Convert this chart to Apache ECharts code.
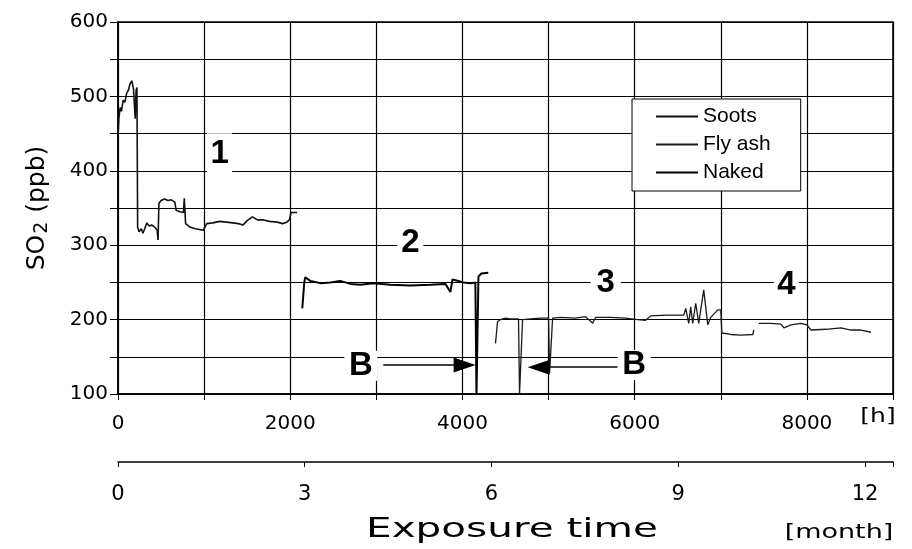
<!DOCTYPE html>
<html>
<head>
<meta charset="utf-8">
<script src="https://cdn.jsdelivr.net/npm/echarts@6/dist/echarts.min.js"></script>
<style>
  html, body { margin: 0; padding: 0; background: #fff; }
  #chart { width: 912px; height: 549px; }
</style>
</head>
<body>
<div id="chart"></div>
<script>
// period 1
var sootsHours = [0, 10, 25, 40, 60, 80, 100, 120, 140, 160, 180, 195, 200, 210, 220, 228, 245, 270, 290, 310, 335, 360, 395, 430, 455, 465, 475, 500, 540, 580, 620, 660, 675, 720, 760, 770, 785, 840, 900, 990, 1030, 1100, 1180, 1260, 1330, 1400, 1450, 1500, 1560, 1620, 1690, 1760, 1850, 1910, 1960, 1990, 2010, 2080];
var sootsPpb = [445, 470, 485, 480, 495, 492, 504, 508, 517, 521, 510, 508, 470, 508, 512, 324, 318, 322, 316, 322, 330, 326, 327, 324, 320, 307, 356, 360, 362, 360, 361, 358, 347, 345, 344, 363, 329, 324, 322, 320, 329, 330, 332, 331, 330, 329, 327, 333, 338, 334, 334, 332, 331, 329, 331, 334, 344, 344];

// period 2
var nakedHours = [2140, 2163, 2175, 2233, 2350, 2465, 2580, 2700, 2814, 2965, 3163, 3395, 3628, 3802, 3860, 3884, 3953, 4010, 4093, 4150, 4163, 4186, 4186, 4220, 4300];
var nakedPpb = [215, 250, 257, 252, 249, 250, 252, 248, 247, 249, 247, 246, 247, 248, 237, 254, 252, 250, 249, 250, 100, 100, 258, 262, 263];

// periods 3 and 4 (null = gap)
var flyAshHours = [4384, 4407, 4442, 4500, 4558, 4651, 4663, 4686, 4698, 4791, 4907, 5000, 5012, 5035, 5047, 5140, 5314, 5430, 5512, 5547, 5721, 5895, 6035, 6128, 6186, 6360, 6570, 6593, 6628, 6651, 6674, 6709, 6744, 6802, 6849, 6884, 6965, 7000, 7012, 7116, 7233, 7372, 7384, null, 7442, 7581, 7698, 7733, 7814, 7930, 8000, 8047, 8221, 8395, 8512, 8628, 8744];
var flyAshPpb = [168, 197, 200, 202, 201, 201, 100, 100, 200, 201, 202, 202, 128, 128, 202, 203, 202, 204, 195, 203, 203, 202, 200, 199, 205, 206, 206, 215, 195, 217, 195, 222, 195, 240, 193, 203, 213, 213, 182, 180, 179, 180, 186, null, 195, 195, 194, 189, 193, 195, 193, 186, 187, 189, 186, 186, 183];

var hourLabels = [0, 2000, 4000, 6000, 8000];
var ppbLabels = [100, 200, 300, 400, 500, 600];
var monthLabels = [0, 3, 6, 9, 12];

// period numbers and "B" marks
var noteTexts = ['1', '2', '3', '4', 'B', 'B'];
var noteHours = [1180, 3395, 5663, 7762, 2820, 5994];
var notePpb = [423, 303, 249, 246, 138, 139];

// B arrows: [fromHour, toHour, ppb]
var arrowFrom = [3081, 5802];
var arrowTo = [4025, 4885];
var arrowPpb = [139, 136];

function pairs(hs, vs) {
  var out = [];
  for (var i = 0; i < hs.length; i++) {
    out.push(hs[i] === null ? ['-', '-'] : [hs[i], vs[i]]);
  }
  return out;
}

var noteBoxes = [[25, 41], [26, 30], [30, 30], [25, 30], [33, 30], [33, 30]];

var chart = echarts.init(document.getElementById('chart'));
var axisFont = 'DejaVu Sans';

var option = {
  animation: false,
  backgroundColor: '#fff',
  grid: {
    left: 118, right: 19, top: 22, bottom: 155,
    show: true, borderColor: '#000', borderWidth: 1.5
  },
  legend: {
    data: ['Soots', 'Fly ash', 'Naked'],
    orient: 'vertical',
    left: 632, top: 99,
    padding: [7, 30, 8, 23],
    itemWidth: 42, itemHeight: 20, itemGap: 7,
    backgroundColor: '#fff',
    borderColor: '#000', borderWidth: 1,
    itemStyle: { color: 'rgba(0,0,0,0)', borderWidth: 0 },
    textStyle: { fontFamily: 'Liberation Sans', fontSize: 21, color: '#000' }
  },
  xAxis: [{
    type: 'value', min: 0, max: 9000, interval: 1000,
    axisLine: { lineStyle: { color: '#000', width: 1.5 } },
    axisTick: { show: true, length: 6, lineStyle: { color: '#000' } },
    splitLine: { show: true, lineStyle: { color: '#000', width: 1.2 } },
    axisLabel: {
      margin: 20, color: '#000', fontFamily: axisFont, fontSize: 20,
      formatter: function (v) { return hourLabels.indexOf(v) >= 0 ? String(v) : ''; }
    }
  }, {
    type: 'value', min: 0, max: 12.45, interval: 3,
    position: 'bottom', offset: 68,
    axisLine: { show: true, lineStyle: { color: '#000', width: 1.5 } },
    axisTick: { show: true, length: 5, lineStyle: { color: '#000' } },
    splitLine: { show: false },
    axisLabel: {
      margin: 22, color: '#000', fontFamily: axisFont, fontSize: 21,
      formatter: function (v) { return monthLabels.indexOf(v) >= 0 ? String(v) : ''; }
    }
  }],
  yAxis: {
    type: 'value', min: 100, max: 600, interval: 50,
    name: '{a|SO}{b|2}{a| (ppb)}',
    nameLocation: 'middle', nameRotate: 90, nameGap: 66,
    nameTextStyle: {
      rich: {
        a: { fontFamily: axisFont, fontSize: 25, color: '#000', lineHeight: 30 },
        b: { fontFamily: axisFont, fontSize: 19, color: '#000', lineHeight: 30, padding: [10, 1, 0, 1] }
      }
    },
    axisLine: { show: true, lineStyle: { color: '#000', width: 1.5 } },
    axisTick: { show: true, length: 8, lineStyle: { color: '#000' } },
    splitLine: { show: true, lineStyle: { color: '#000', width: 1.2 } },
    axisLabel: {
      margin: 10, color: '#000', fontFamily: axisFont, fontSize: 20,
      formatter: function (v) { return ppbLabels.indexOf(v) >= 0 ? String(v) : ''; }
    }
  },
  series: [{
    name: 'Soots', type: 'line', symbol: 'none',
    data: pairs(sootsHours, sootsPpb),
    lineStyle: { color: '#111', width: 1.6 },
    itemStyle: { color: '#111' },
    markPoint: {
      symbol: 'rect',
      itemStyle: { color: '#fff' },
      label: {
        show: true, position: 'inside', color: '#000',
        fontFamily: 'Liberation Sans', fontWeight: 'bold', fontSize: 33,
        formatter: function (p) { return p.name; }
      },
      data: noteTexts.map(function (t, i) {
        return { name: t, coord: [noteHours[i], notePpb[i]], symbolSize: noteBoxes[i] };
      })
    },
    markLine: {
      silent: true,
      symbol: ['none', 'triangle'],
      symbolSize: [15, 22],
      lineStyle: { color: '#000', width: 1.6, type: 'solid' },
      label: { show: false },
      data: arrowFrom.map(function (h, i) {
        return [{ coord: [h, arrowPpb[i]] }, { coord: [arrowTo[i], arrowPpb[i]] }];
      })
    }
  }, {
    name: 'Fly ash', type: 'line', symbol: 'none',
    data: pairs(flyAshHours, flyAshPpb),
    lineStyle: { color: '#1a1a1a', width: 1.3 },
    itemStyle: { color: '#1a1a1a' }
  }, {
    name: 'Naked', type: 'line', symbol: 'none',
    data: pairs(nakedHours, nakedPpb),
    lineStyle: { color: '#000', width: 2 },
    itemStyle: { color: '#000' }
  }],
  graphic: [{
    type: 'text', x: 878, y: 417, scaleX: 1.25,
    style: { text: '[h]', font: '20px "DejaVu Sans"', fill: '#000', align: 'center', verticalAlign: 'middle', textAlign: 'center', textVerticalAlign: 'middle' }
  }, {
    type: 'text', x: 512, y: 530, scaleX: 1.5,
    style: { text: 'Exposure time', font: '27px "DejaVu Sans"', fill: '#000', align: 'center', verticalAlign: 'middle', textAlign: 'center', textVerticalAlign: 'middle' }
  }, {
    type: 'text', x: 839, y: 533, scaleX: 1.35,
    style: { text: '[month]', font: '20px "DejaVu Sans"', fill: '#000', align: 'center', verticalAlign: 'middle', textAlign: 'center', textVerticalAlign: 'middle' }
  }]
};

chart.setOption(option);
</script>
</body>
</html>
